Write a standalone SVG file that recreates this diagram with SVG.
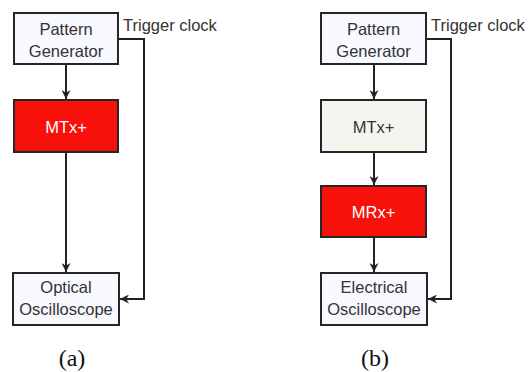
<svg xmlns="http://www.w3.org/2000/svg" width="532" height="372" viewBox="0 0 532 372">
<style>
.box{stroke:#262626;stroke-width:2}
.light{fill:#f8f8ff}
.beige{fill:#f5f4ef}
.red{fill:#f8100a}
.t{font-family:"Liberation Sans",Arial,sans-serif;font-size:16.5px;fill:#333;text-anchor:middle}
.tw{font-family:"Liberation Sans",Arial,sans-serif;font-size:16.5px;fill:#fff;text-anchor:middle}
.tl{font-family:"Liberation Sans",Arial,sans-serif;font-size:16.5px;fill:#333}
.cap{font-family:"Liberation Serif","Times New Roman",serif;font-size:24px;fill:#111;text-anchor:middle}
.c{fill:none;stroke:#222;stroke-width:2}
</style>
<defs>
<marker id="ah" viewBox="0 0 10 10" refX="10" refY="5" markerWidth="9" markerHeight="9" markerUnits="userSpaceOnUse" orient="auto">
<path d="M0,0 L10,5 L0,10 L3,5 z" fill="#222"/>
</marker>
</defs>
<g id="connectors">
<path class="c" d="M66,64 V99" marker-end="url(#ah)"/>
<path class="c" d="M66,152 V272" marker-end="url(#ah)"/>
<path class="c" d="M118,39 H144 V299 H120" marker-end="url(#ah)"/>
<path class="c" d="M374,64 V99" marker-end="url(#ah)"/>
<path class="c" d="M374,152 V185" marker-end="url(#ah)"/>
<path class="c" d="M374,237 V272" marker-end="url(#ah)"/>
<path class="c" d="M426,39 H451 V299 H428" marker-end="url(#ah)"/>
</g>
<g id="pg-a">
<rect class="box light" x="14" y="13" width="104" height="51"/>
<text class="t" x="66" y="35">Pattern</text>
<text class="t" x="66" y="57">Generator</text>
</g>
<g id="mtx-a">
<rect class="box red" x="14" y="100" width="104" height="52"/>
<text class="tw" x="66" y="133">MTx+</text>
</g>
<g id="osc-a">
<rect class="box light" x="13" y="273" width="106" height="52"/>
<text class="t" x="66" y="293">Optical</text>
<text class="t" x="66" y="315">Oscilloscope</text>
</g>
<text class="tl" x="123" y="31">Trigger clock</text>
<text class="cap" x="72" y="366">(a)</text>
<g id="pg-b">
<rect class="box light" x="321" y="13" width="105" height="51"/>
<text class="t" x="373.5" y="35">Pattern</text>
<text class="t" x="373.5" y="57">Generator</text>
</g>
<g id="mtx-b">
<rect class="box beige" x="321" y="100" width="105" height="52"/>
<text class="t" x="373.5" y="133">MTx+</text>
</g>
<g id="mrx-b">
<rect class="box red" x="321" y="186" width="105" height="51"/>
<text class="tw" x="373.5" y="218">MRx+</text>
</g>
<g id="osc-b">
<rect class="box light" x="321" y="273" width="106" height="52"/>
<text class="t" x="374" y="293">Electrical</text>
<text class="t" x="374" y="315">Oscilloscope</text>
</g>
<text class="tl" x="431" y="31">Trigger clock</text>
<text class="cap" x="375" y="366">(b)</text>
</svg>
